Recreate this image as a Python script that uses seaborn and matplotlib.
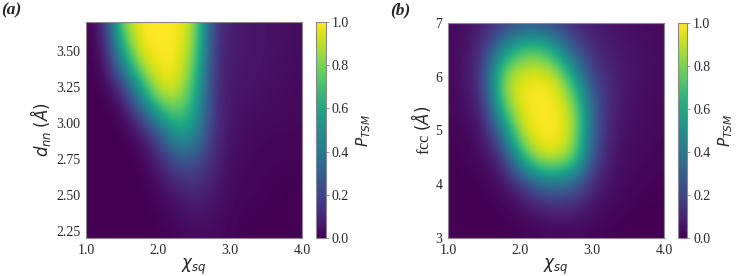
"""
Two-panel P_TSM maps: (a) chi_sq vs d_nn, (b) chi_sq vs fcc.
Values read off a coarse grid; imshow's bicubic smoothing fills in between.
"""

import matplotlib.pyplot as plt
import numpy as np
import seaborn as sns

# ---------------------------------------------------------------------------
# data (rows = bottom -> top)
# ---------------------------------------------------------------------------
CHI_SQ = [1.0, 1.25, 1.5, 1.75, 2.0, 2.25, 2.5, 2.75, 3.0, 3.25, 3.5, 3.75, 4.0]

D_NN = [2.2, 2.45, 2.7, 2.95, 3.2, 3.45, 3.7]
P_TSM_A = [
    [0.00, 0.00, 0.00, 0.00, 0.00, 0.01, 0.02, 0.02, 0.01, 0.00, 0.00, 0.00, 0.00],
    [0.00, 0.00, 0.00, 0.00, 0.01, 0.04, 0.07, 0.06, 0.02, 0.01, 0.01, 0.00, 0.00],
    [0.00, 0.00, 0.00, 0.00, 0.05, 0.17, 0.21, 0.10, 0.03, 0.02, 0.01, 0.01, 0.01],
    [0.00, 0.00, 0.00, 0.02, 0.24, 0.60, 0.54, 0.15, 0.05, 0.03, 0.02, 0.02, 0.02],
    [0.00, 0.00, 0.03, 0.47, 0.95, 0.95, 0.66, 0.15, 0.06, 0.05, 0.04, 0.03, 0.02],
    [0.00, 0.02, 0.52, 0.98, 1.00, 1.00, 0.82, 0.15, 0.07, 0.06, 0.05, 0.04, 0.03],
    [0.00, 0.08, 0.85, 1.00, 1.00, 1.00, 0.90, 0.18, 0.08, 0.06, 0.05, 0.04, 0.03],
]

FCC = [3.0, 3.5, 4.0, 4.5, 5.0, 5.5, 6.0, 6.5, 7.0]
P_TSM_B = [
    [0.00, 0.00, 0.00, 0.00, 0.00, 0.01, 0.01, 0.01, 0.01, 0.00, 0.00, 0.00, 0.00],
    [0.00, 0.00, 0.00, 0.01, 0.02, 0.05, 0.08, 0.07, 0.04, 0.02, 0.01, 0.00, 0.00],
    [0.00, 0.00, 0.01, 0.03, 0.12, 0.30, 0.35, 0.30, 0.10, 0.04, 0.02, 0.01, 0.01],
    [0.00, 0.01, 0.03, 0.12, 0.60, 0.95, 0.97, 0.80, 0.25, 0.06, 0.03, 0.02, 0.01],
    [0.01, 0.02, 0.06, 0.40, 0.92, 1.00, 1.00, 0.90, 0.30, 0.08, 0.04, 0.03, 0.02],
    [0.02, 0.04, 0.12, 0.75, 0.98, 1.00, 1.00, 0.85, 0.30, 0.10, 0.05, 0.03, 0.02],
    [0.02, 0.05, 0.20, 0.85, 0.97, 0.98, 0.95, 0.55, 0.20, 0.10, 0.06, 0.04, 0.03],
    [0.02, 0.05, 0.15, 0.45, 0.70, 0.75, 0.55, 0.25, 0.12, 0.07, 0.05, 0.04, 0.03],
    [0.02, 0.04, 0.08, 0.15, 0.20, 0.20, 0.15, 0.10, 0.07, 0.05, 0.04, 0.03, 0.02],
]

X_TICKS = [1.0, 2.0, 3.0, 4.0]
Y_TICKS_A = [2.25, 2.50, 2.75, 3.00, 3.25, 3.50]
Y_TICKS_B = [3, 4, 5, 6, 7]
CBAR_TICKS = [0.0, 0.2, 0.4, 0.6, 0.8, 1.0]

sns.set_style("white")
plt.rcParams["font.family"] = ["Liberation Serif", "DejaVu Sans"]
plt.rcParams["mathtext.fontset"] = "dejavusans"

CMAP = sns.color_palette("viridis", as_cmap=True)
EDGE = "#888888"


def draw_panel(fig, ax_rect, cax_rect, xs, ys, values, yticks, yfmt, ylabel, tag, tag_x):
    ax = fig.add_axes(ax_rect)
    cax = fig.add_axes(cax_rect)
    xs = np.asarray(xs)
    ys = np.asarray(ys)
    dx = xs[1] - xs[0]
    dy = ys[1] - ys[0]
    im = ax.imshow(
        np.asarray(values),
        origin="lower",
        extent=(xs[0] - dx / 2, xs[-1] + dx / 2, ys[0] - dy / 2, ys[-1] + dy / 2),
        aspect="auto",
        cmap=CMAP,
        vmin=0,
        vmax=1,
        interpolation="bicubic",
    )
    ax.set_xlim(xs[0], xs[-1])
    ax.set_ylim(ys[0], ys[-1])
    ax.set_xticks(X_TICKS)
    ax.set_xticklabels([f"{t:.1f}" for t in X_TICKS])
    ax.set_yticks(yticks)
    ax.set_yticklabels([yfmt.format(t) for t in yticks])
    ax.tick_params(labelsize=10, length=2.5, width=0.6, color=EDGE, pad=1.5)
    for s in ax.spines.values():
        s.set_edgecolor(EDGE)
        s.set_linewidth(0.8)
    ax.set_xlabel(r"$\chi_{sq}$", fontsize=12, labelpad=0)
    ax.set_ylabel(ylabel, fontsize=12, labelpad=2)

    cb = fig.colorbar(im, cax=cax, ticks=CBAR_TICKS)
    cb.ax.set_yticklabels([f"{t:.1f}" for t in CBAR_TICKS])
    cb.ax.tick_params(labelsize=10, length=2.5, width=0.6, color=EDGE, pad=1.5)
    cb.outline.set_edgecolor(EDGE)
    cb.outline.set_linewidth(0.8)
    cb.set_label(r"$P_{TSM}$", fontsize=11, labelpad=4)

    fig.text(tag_x, 0.99, tag, fontsize=12.5, fontweight="bold", fontstyle="italic",
             va="top", ha="left")


fig = plt.figure(figsize=(7.47, 2.76), dpi=100)

draw_panel(fig, [0.1151, 0.1377, 0.2892, 0.7826], [0.4230, 0.1377, 0.0134, 0.7826],
           CHI_SQ, D_NN, P_TSM_A, Y_TICKS_A, "{:.2f}",
           r"$d_{nn}$ $(Å)$", "(a)", 0.002)
draw_panel(fig, [0.5997, 0.1377, 0.2892, 0.7790], [0.9076, 0.1377, 0.0127, 0.7790],
           CHI_SQ, FCC, P_TSM_B, Y_TICKS_B, "{:.0f}",
           r"fcc $(Å)$", "(b)", 0.522)

fig.savefig("out.png", dpi=100)
plt.close(fig)
